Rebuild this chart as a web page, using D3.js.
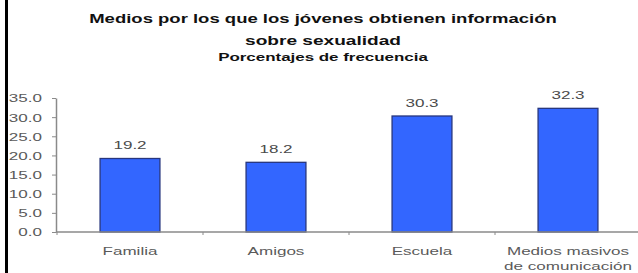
<!DOCTYPE html>
<html>
<head>
<meta charset="utf-8">
<script src="https://cdn.jsdelivr.net/npm/d3@7"></script>
<style>
  html, body { margin: 0; padding: 0; background: #fff; }
  svg { display: block; font-family: "Liberation Sans", Arial, sans-serif; }
</style>
</head>
<body>
<svg id="chart" width="638" height="273"></svg>
<script>
// ---- data ----
const categories = ["Familia", "Amigos", "Escuela", "Medios masivos de comunicación"];
const categoryLabelLines = [["Familia"], ["Amigos"], ["Escuela"], ["Medios masivos", "de comunicación"]];
const values = [19.2, 18.2, 30.3, 32.3];
const yTickValues = [0, 5, 10, 15, 20, 25, 30, 35];
const titleLines = [
  "Medios por los que los jóvenes obtienen información",
  "sobre sexualidad",
  "Porcentajes de frecuencia"
];

// ---- layout ----
const W = 638, H = 273;
const svg = d3.select("#chart");
const axisColor = "#8a8a8a";
const textColor = "#5a5a5a";
const stretch = 1.55;

// left black border
svg.append("rect").attr("x", 5).attr("y", 0).attr("width", 3).attr("height", H).attr("fill", "#000");

const x = d3.scaleBand().domain(categories).range([57, 641]).padding(0);
const y = d3.scaleLinear().domain([0, 35]).range([232, 98]);

// bars
const barFrac = 0.41;
svg.append("g").selectAll("rect").data(values).join("rect")
  .attr("x", (d, i) => x(categories[i]) + x.bandwidth() * (1 - barFrac) / 2)
  .attr("width", x.bandwidth() * barFrac)
  .attr("y", d => y(d))
  .attr("height", d => y(0) - y(d))
  .attr("fill", "#3366ff")
  .attr("stroke", "#27367e")
  .attr("stroke-width", 1.3);

// y axis
const yAxis = svg.append("g").attr("transform", "translate(56,0)")
  .call(d3.axisLeft(y).tickValues(yTickValues).tickFormat(d3.format(".1f")).tickSize(4).tickSizeOuter(0));
yAxis.select(".domain").attr("stroke", axisColor).attr("stroke-width", 1.5);
yAxis.selectAll(".tick line").attr("stroke", axisColor);
yAxis.selectAll(".tick text")
  .attr("x", null).attr("dy", "0.36em")
  .attr("transform", `translate(-14,0) scale(${stretch},1)`)
  .attr("fill", textColor).attr("font-size", 11)
  .attr("font-family", "Liberation Sans, Arial, sans-serif");

// x axis: line + boundary ticks
const xAxis = svg.append("g").attr("transform", `translate(0,${y(0)})`);
xAxis.append("line").attr("x1", 56).attr("x2", W).attr("stroke", axisColor).attr("stroke-width", 1.5);
xAxis.selectAll(".xt").data(categories).join("line").attr("class", "xt")
  .attr("x1", d => x(d)).attr("x2", d => x(d)).attr("y1", 0).attr("y2", 3)
  .attr("stroke", axisColor);

// value labels
svg.append("g").selectAll("text").data(values).join("text")
  .attr("transform", (d, i) => `translate(${x(categories[i]) + x.bandwidth() / 2},${y(d) - 9}) scale(${stretch},1)`)
  .attr("text-anchor", "middle").attr("font-size", 11).attr("fill", "#4a4a4a")
  .text(d => d3.format(".1f")(d));

// category labels
categoryLabelLines.forEach((lines, i) => {
  lines.forEach((ln, j) => {
    svg.append("text")
      .attr("transform", `translate(${x(categories[i]) + x.bandwidth() / 2},${255 + j * 15}) scale(${stretch},1)`)
      .attr("text-anchor", "middle").attr("font-size", 11).attr("fill", textColor)
      .text(ln);
  });
});

// titles
const titleSpec = [
  { y: 23, size: 12.5, weight: "bold", width: 468 },
  { y: 45, size: 12.5, weight: "bold", width: 156 },
  { y: 61, size: 11, weight: "bold", width: 210 }
];
titleLines.forEach((t, i) => {
  const s = titleSpec[i];
  const el = svg.append("text")
    .attr("text-anchor", "middle").attr("font-size", s.size).attr("font-weight", s.weight)
    .attr("fill", "#111").text(t);
  const k = s.width / el.node().getComputedTextLength();
  el.attr("transform", `translate(323,${s.y}) scale(${k},1)`);
});
</script>
</body>
</html>
